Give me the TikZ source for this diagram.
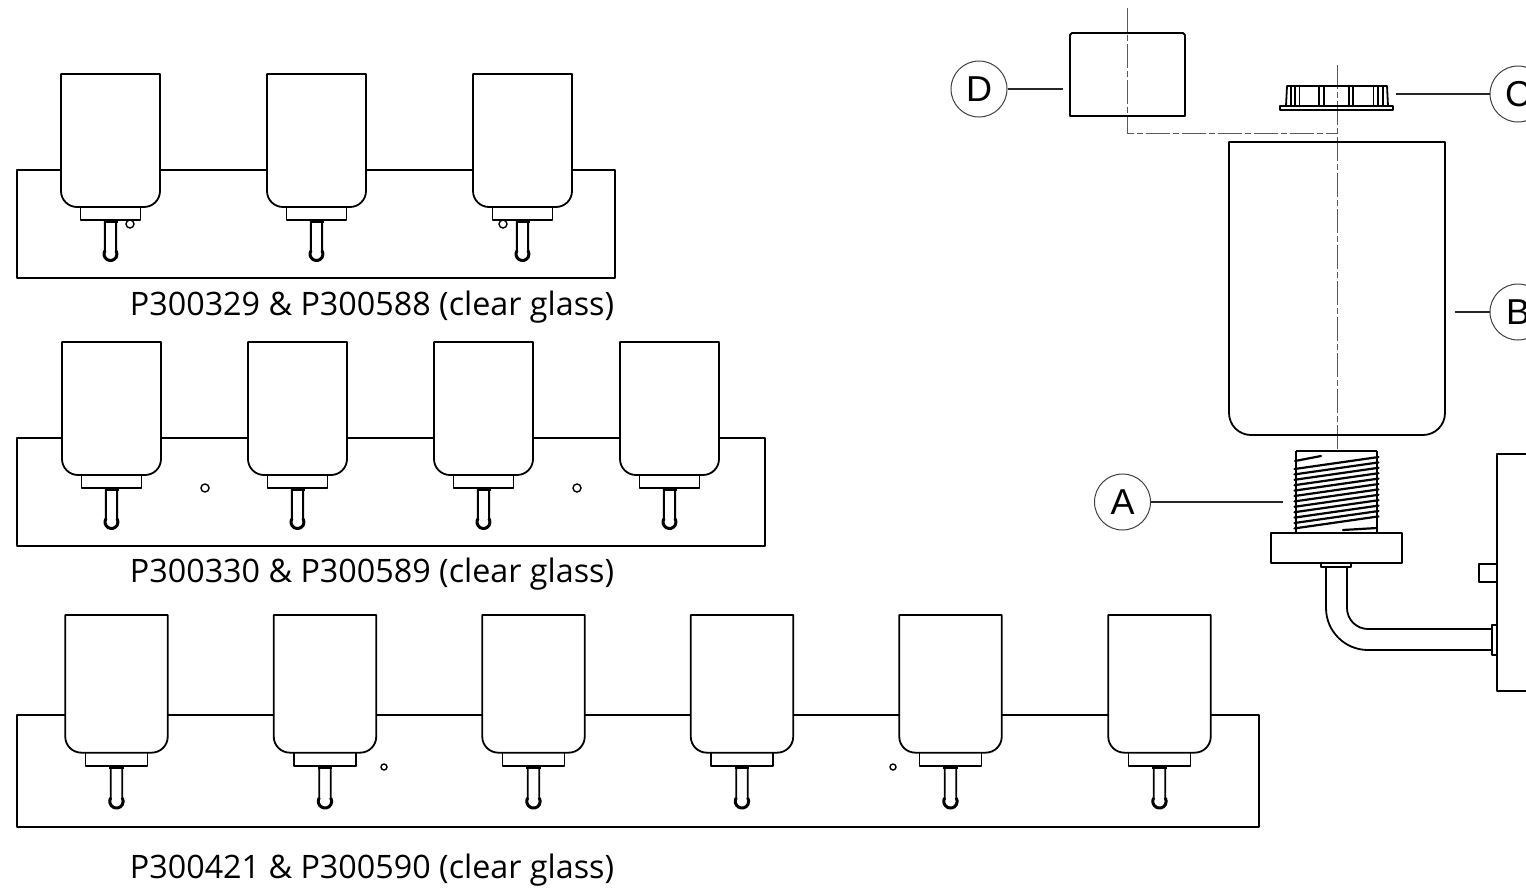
\documentclass[tikz,border=0pt]{standalone}
\usepackage{fontspec}
\setmainfont{Open Sans}
\newfontfamily\callfont{Liberation Sans}
\tikzset{
    part/.style={line width=1.8pt,line join=round},
    thin part/.style={line width=1.1pt},
    centre/.style={line width=1pt,black!65,dash pattern=on 24pt off 3pt on 6pt off 3pt},
    leader/.style={line width=1.2pt,black!85},
    callout/.style={circle,draw=black!75,line width=1pt,minimum size=56pt,inner sep=0pt,font=\callfont\fontsize{36}{36}\selectfont},
    caption/.style={font=\fontsize{32.3}{32.3}\selectfont},
    hole/.style={circle,draw,line width=1.4pt,minimum size=8pt,inner sep=0pt},
    lamp/.pic={
        \draw[part,fill=white,rounded corners=16pt] (-49.5,0) [sharp corners] -- (49.5,0) [rounded corners=16pt] -- (49.5,133) -- (-49.5,133) [sharp corners] -- (-49.5,0) -- cycle;
        \draw[part] (-30,133) -- (-30,146) -- (30,146) -- (30,133);
        \draw[part] (-5.63,146) -- (-5.63,176.75) arc[start angle=210,end angle=-30,radius=6.5] -- (5.63,146);
        \draw[part,line width=3pt] (-7,147) -- (7,147);
        \draw[part,line width=3pt] (-5.63,176.75) arc[start angle=210,end angle=-30,radius=6.5];
    }
}
\begin{document}
\begin{tikzpicture}[x=1pt,y=-1pt]
    \useasboundingbox (0,0) rectangle (1526,889);

    \draw[part] (17,170) rectangle (615,278);
    \draw[part] (17,438) rectangle (765,546);
    \draw[part] (17,715) rectangle (1259,827);
    \foreach \cx in {110.5,316.5,522.5}
        \pic at (\cx,74) {lamp};
    \foreach \cx in {111.5,297.5,483.5,669.5}
        \pic at (\cx,342) {lamp};
    \foreach \cx in {116.5,325,533.5,742,950.5,1159.5}
        \pic[scale=1.035] at (\cx,615) {lamp};

    \foreach \hx/\hy in {130/224,503/224,205/488,577/488}
        \node[hole] at (\hx,\hy) {};
    \foreach \hx in {384,893}
        \node[hole,minimum size=6pt] at (\hx,767) {};

    \node[caption] (row1) at (372,307.5) {P300329 \& P300588 (clear glass)};
    \node[caption] (row2) at (372,574.5) {P300330 \& P300589 (clear glass)};
    \node[caption] (row3) at (372,870.5) {P300421 \& P300590 (clear glass)};

    \draw[centre] (1127,8) -- (1127,133) -- (1337,133);
    \draw[centre] (1337,65) -- (1337,450);

    \draw[part] (1070,35) -- (1072,33) -- (1183,33) -- (1185,35) -- (1185,116) -- (1070,116) -- cycle;

    \draw[part] (1280,106) rectangle (1393,110);
    \draw[part] (1286,106) -- (1287,86) -- (1387,86) -- (1388,106);
    \foreach \vx in {1291,1295,1299.5,1319,1324,1349,1353,1373.5,1378,1383}
        \draw[thin part] (\vx,86) -- (\vx,106);

    \draw[part,rounded corners=22pt] (1229,142) [sharp corners] -- (1445,142) [rounded corners=22pt] -- (1445,435) -- (1229,435) [sharp corners] -- (1229,142) -- cycle;

    \draw[part] (1296,451) -- (1377,451);
    \draw[part] (1296,451) -- (1296,533);
    \draw[part] (1377,451) -- (1377,533);
    \draw[part,line width=2.2pt,line cap=round] (1295,461) -- (1321,456);
    \draw[part,line width=2.2pt,line cap=round] (1343,530) -- (1377,528);
    \foreach \ty in {0,...,11}
        \draw[part,line width=2.2pt,line cap=round] (1294.5,{469+\ty*5.4}) -- (1378.5,{457+\ty*5.4});

    \draw[part] (1271,533) -- (1402,533) -- (1402,563) -- (1271,563) -- cycle;
    \draw[part] (1321,563) rectangle (1351,567);
    \draw[part] (1326,567) -- (1326,608) arc[start angle=180,end angle=90,radius=42] -- (1492,650);
    \draw[part] (1347,567) -- (1347,608) arc[start angle=180,end angle=90,radius=21] -- (1492,629);
    \draw[part] (1492,625) rectangle (1497,655);
    \draw[part] (1526,454) -- (1497,454) -- (1497,691) -- (1526,691);
    \draw[part] (1497,564) -- (1479,564) -- (1479,582) -- (1497,582);

    \node[callout] (A) at (1122.5,502) {A};
    \node[callout] (B) at (1518,312) {B};
    \node[callout] (C) at (1518,94) {C};
    \node[callout] (D) at (979,89) {D};
    \coordinate (tipA) at (1283,502);
    \coordinate (tipB) at (1455,312);
    \coordinate (tipC) at (1396,94);
    \coordinate (tipD) at (1063,89);
    \draw[leader] (A) -- (tipA);
    \draw[leader] (B) -- (tipB);
    \draw[leader] (C) -- (tipC);
    \draw[leader] (D) -- (tipD);
\end{tikzpicture}
\end{document}
